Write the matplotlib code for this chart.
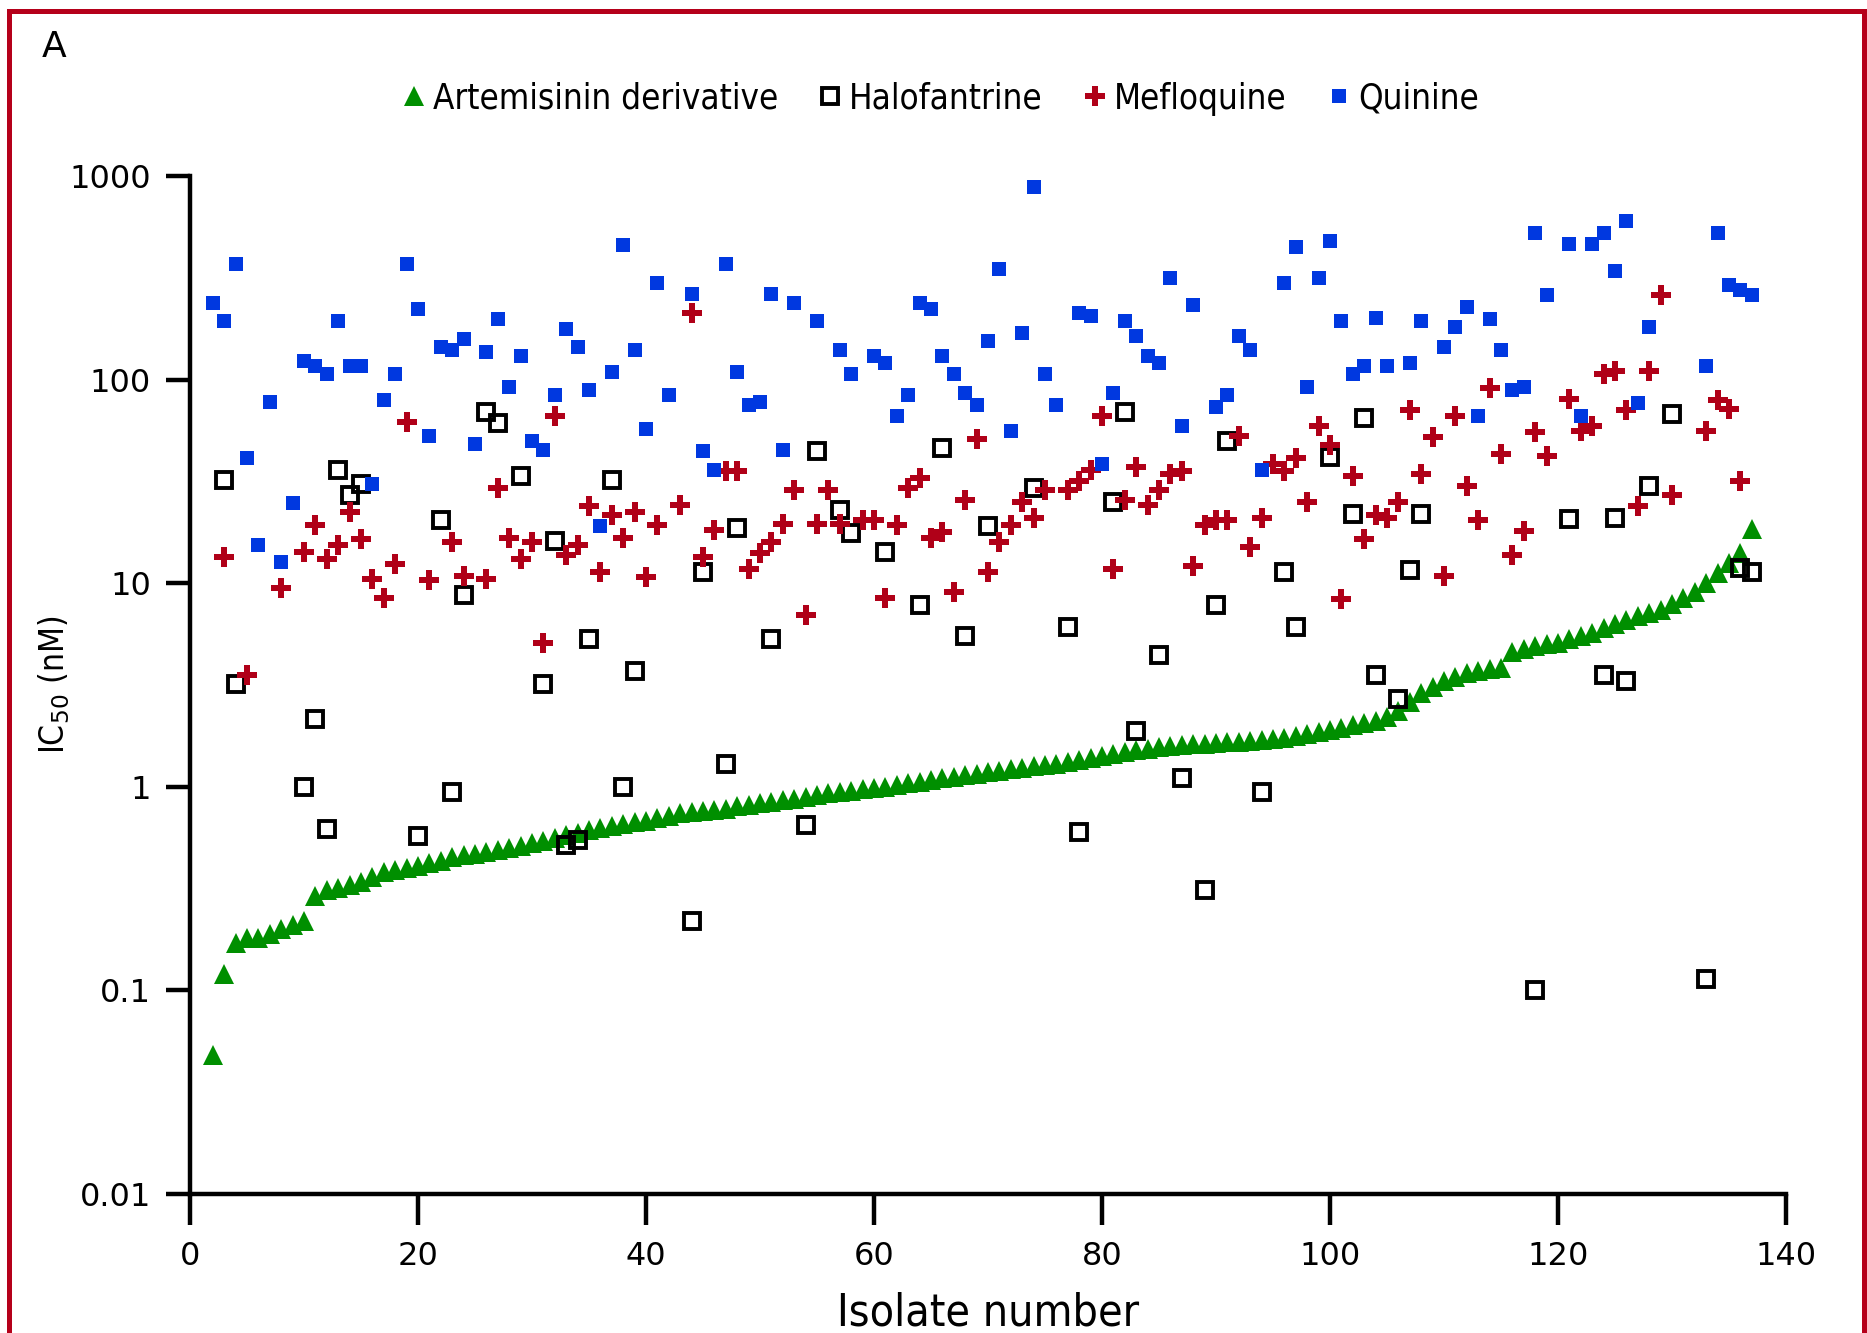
import matplotlib.pyplot as plt
from matplotlib.lines import Line2D

# IC50 values (nM) per isolate
art_isolate = list(range(2, 138))
art_ic50 = [
    0.048, 0.12, 0.17, 0.18, 0.18, 0.19, 0.20, 0.21, 0.22, 0.29,
    0.31, 0.32, 0.33, 0.34, 0.36, 0.38, 0.39, 0.40, 0.41, 0.42,
    0.43, 0.45, 0.46, 0.47, 0.48, 0.49, 0.50, 0.51, 0.53, 0.54,
    0.56, 0.58, 0.59, 0.61, 0.63, 0.64, 0.66, 0.67, 0.68, 0.70,
    0.72, 0.74, 0.75, 0.76, 0.77, 0.78, 0.80, 0.81, 0.83, 0.84,
    0.86, 0.87, 0.89, 0.91, 0.93, 0.94, 0.95, 0.97, 0.99, 1.00,
    1.02, 1.04, 1.06, 1.08, 1.10, 1.12, 1.14, 1.16, 1.18, 1.20,
    1.22, 1.24, 1.26, 1.28, 1.30, 1.33, 1.36, 1.39, 1.42, 1.45,
    1.48, 1.51, 1.54, 1.56, 1.58, 1.60, 1.62, 1.63, 1.64, 1.65,
    1.66, 1.67, 1.69, 1.71, 1.74, 1.77, 1.81, 1.86, 1.90, 1.95,
    2.0, 2.05, 2.1, 2.2, 2.35, 2.6, 2.9, 3.1, 3.3, 3.45,
    3.6, 3.7, 3.8, 3.85, 4.6, 4.75, 4.9, 5.0, 5.1, 5.3,
    5.5, 5.7, 6.0, 6.3, 6.6, 6.9, 7.1, 7.4, 7.9, 8.5,
    9.1, 10.0, 11.2, 12.5, 14.0, 18.5,
]

halo_isolate = [3, 4, 10, 11, 12, 13, 14, 15, 20, 22, 23, 24, 26, 27, 29, 31, 32,
                33, 34, 35, 37, 38, 39, 44, 45, 47, 48, 51, 54, 55, 57, 58, 61, 64,
                66, 68, 70, 74, 77, 78, 81, 82, 83, 85, 87, 89, 90, 91, 94, 96, 97,
                100, 102, 103, 104, 106, 107, 108, 118, 121, 124, 125, 126, 128,
                130, 133, 136, 137]
halo_ic50 = [32, 3.2, 1.0, 2.15, 0.62, 36, 27, 30.6, 0.57, 20.4, 0.94, 8.7, 69, 61.5,
             33.6, 3.2, 16.2, 0.52, 0.55, 5.3, 32, 1.0, 3.7, 0.22, 11.3, 1.3, 18.6,
             5.3, 0.65, 44.6, 23, 17.6, 14.2, 7.85, 46, 5.5, 19.1, 29.4, 6.1, 0.6,
             25, 69.5, 1.88, 4.46, 1.1, 0.31, 7.85, 50, 0.94, 11.3, 6.1, 41.7, 21.8,
             65, 3.55, 2.7, 11.6, 21.8, 0.1, 20.7, 3.55, 21, 3.3, 30, 67.6, 0.114,
             11.9, 11.3]

meflo_isolate = [3, 5, 8, 10, 11, 12, 13, 14, 15, 16, 17, 18, 19, 21, 23, 24, 26, 27,
                 28, 29, 30, 31, 32, 33, 34, 35, 36, 37, 38, 39, 40, 41, 43, 44, 45,
                 46, 47, 48, 49, 50, 51, 52, 53, 54, 55, 56, 57, 59, 60, 61, 62, 63,
                 64, 65, 66, 67, 68, 69, 70, 71, 72, 73, 74, 75, 77, 78, 79, 80, 81,
                 82, 83, 84, 85, 86, 87, 88, 89, 90, 91, 92, 93, 94, 95, 96, 97, 98,
                 99, 100, 101, 102, 103, 104, 105, 106, 107, 108, 109, 110, 111, 112,
                 113, 114, 115, 116, 117, 118, 119, 121, 122, 123, 124, 125, 126, 127,
                 128, 129, 130, 133, 134, 135, 136]
meflo_ic50 = [13.5, 3.55, 9.5, 14.2, 19.4, 13.2, 15.4, 22.4, 16.4, 10.5, 8.5, 12.4, 62,
              10.4, 16, 10.8, 10.5, 29.4, 16.7, 13.2, 16, 5.1, 66, 13.8, 15.4, 24,
              11.4, 21.5, 16.7, 22.4, 10.7, 19.4, 24.3, 212, 13.5, 18.3, 35.5, 35.5,
              11.7, 14, 16, 19.6, 28.6, 7, 19.6, 28.6, 19.6, 20.4, 20.4, 8.5, 19.4,
              29.4, 32.7, 16.7, 17.8, 9, 25.6, 51, 11.4, 16, 19.4, 25, 21, 28.6, 28.6,
              31.8, 36, 66, 11.7, 25.6, 37.4, 24.3, 28.6, 34.5, 35.5, 12.1, 19.4,
              20.4, 20.4, 53, 15, 21, 38.5, 35.5, 41, 25, 59, 47.6, 8.4, 33.6, 16.4,
              21.5, 21, 25, 71, 34.5, 52, 10.8, 66, 30, 20.4, 91, 43, 13.8, 18, 55,
              42, 80, 56, 59, 107, 110, 71, 24, 110, 260, 27, 56, 79, 72, 31.8]

quin_isolate = [2, 3, 4, 5, 6, 7, 8, 9, 10, 11, 12, 13, 14, 15, 16, 17, 18, 19, 20, 21,
                22, 23, 24, 25, 26, 27, 28, 29, 30, 31, 32, 33, 34, 35, 36, 37, 38, 39,
                40, 41, 42, 44, 45, 46, 47, 48, 49, 50, 51, 52, 53, 55, 57, 58, 60, 61,
                62, 63, 64, 65, 66, 67, 68, 69, 70, 71, 72, 73, 74, 75, 76, 78, 79, 80,
                81, 82, 83, 84, 85, 86, 87, 88, 90, 91, 92, 93, 94, 96, 97, 98, 99, 100,
                101, 102, 103, 104, 105, 107, 108, 110, 111, 112, 113, 114, 115, 116,
                117, 118, 119, 121, 122, 123, 124, 125, 126, 127, 128, 133, 134, 135,
                136, 137]
quin_ic50 = [237, 194, 369, 41, 15.4, 78, 12.7, 24.7, 124, 116,
             107, 194, 116, 116, 30.6, 79, 107, 369, 221, 53,
             144, 140, 158, 48, 136, 199, 92, 130, 50, 45,
             84, 178, 144, 89, 19, 109, 458, 140, 57, 298,
             84, 264, 44.6, 36, 369, 109, 75, 78, 264, 45, 237,
             194, 140, 107,
             130, 121, 66, 84, 237, 221, 130, 107, 86, 75, 155, 350, 56, 169, 885,
             107, 75,
             212, 205, 38.5, 86, 194, 164, 130, 120, 314, 59, 233,
             73, 84, 164, 140, 36,
             298, 446, 92, 314, 477, 194, 107, 116, 201, 116,
             121, 194,
             144, 181, 227, 66, 199, 140, 89, 92, 524, 260,
             464, 66, 464, 524, 340, 600, 77, 181,
             116, 524, 290, 275, 260]

GREEN = '#008f00'
RED = '#b00018'
BLUE = '#0038e0'
FRAME = '#b5001a'

plt.rcParams['font.family'] = ['DejaVu Sans']

fig = plt.figure(figsize=(18.67, 13.33), dpi=100)
ax = fig.add_axes([0.1018, 0.1043, 0.8548, 0.7637])

ax.plot(art_isolate, art_ic50, '^', color=GREEN, ms=14, mew=0,
        label='Artemisinin derivative', zorder=2)
ax.plot(halo_isolate, halo_ic50, 's', mfc='none', mec='black', ms=11.5, mew=2.8,
        label='Halofantrine', zorder=3)
ax.plot(meflo_isolate, meflo_ic50, 'P', color=RED, ms=15, mew=0,
        label='Mefloquine', zorder=4)
ax.plot(quin_isolate, quin_ic50, 's', color=BLUE, ms=10.5, mew=0,
        label='Quinine', zorder=5)

ax.set_yscale('log')
ax.set_ylim(0.01, 1000)
ax.set_xlim(0, 140)
ax.set_xticks(range(0, 141, 20))
ax.set_yticks([0.01, 0.1, 1, 10, 100, 1000])
ax.set_yticklabels(['0.01', '0.1', '1', '10', '100', '1000'])
ax.minorticks_off()

for side in ['top', 'right']:
    ax.spines[side].set_visible(False)
for side in ['left', 'bottom']:
    ax.spines[side].set_linewidth(3.2)

ax.tick_params(axis='y', direction='out', length=17, width=3.2, pad=11, labelsize=23)
ax.tick_params(axis='x', direction='out', length=22, width=3.2, pad=12, labelsize=23)

ax.set_xlabel('Isolate number', fontsize=32, va='center', fontstretch='condensed')
ax.xaxis.set_label_coords(0.5, -0.117)
ax.set_ylabel('IC$_{50}$ (nM)', fontsize=24, va='center', fontstretch='condensed')
ax.yaxis.set_label_coords(-0.085, 0.5)

fig.legend(loc='center', bbox_to_anchor=(0.504, 0.926), ncol=4, frameon=False,
           prop={'size': 25, 'stretch': 'condensed'}, handlelength=0.6,
           handletextpad=0.25, columnspacing=1.2, markerscale=1.0)

fig.text(0.029, 0.965, 'A', fontsize=26, ha='center', va='center')

# red frame around the panel (bottom edge is cropped in the original)
lw = 3.6
fig.add_artist(Line2D([0.005, 0.9985], [0.9915, 0.9915], color=FRAME, lw=lw))
fig.add_artist(Line2D([0.005, 0.005], [0.9915, 0.0], color=FRAME, lw=lw))
fig.add_artist(Line2D([0.9985, 0.9985], [0.9915, 0.0], color=FRAME, lw=lw))

fig.savefig('out.png', dpi=100)
